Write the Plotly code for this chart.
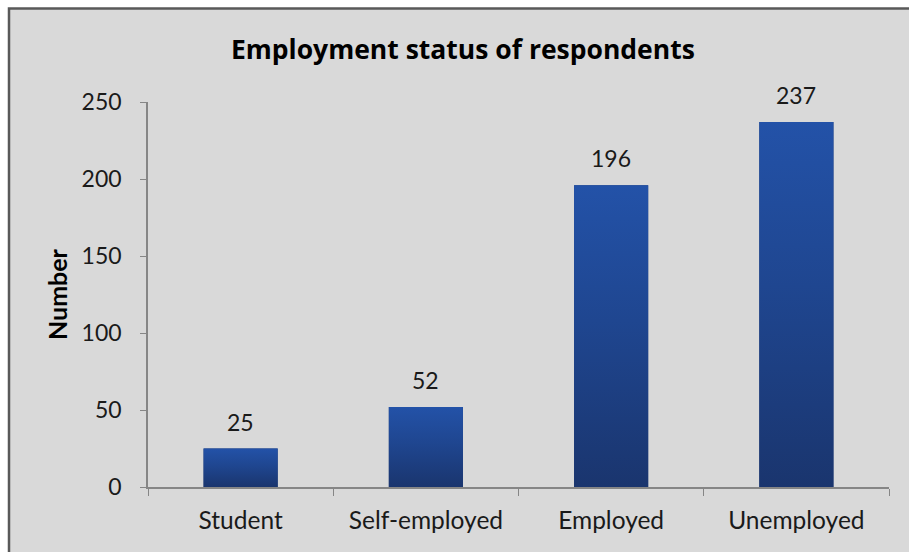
import plotly.graph_objects as go

# Survey counts by employment status
categories = ["Student", "Self-employed", "Employed", "Unemployed"]
counts = [25, 52, 196, 237]
y_ticks = [0, 50, 100, 150, 200, 250]

FONT = "Lato"
BAR_TOP = "#2352a8"
BAR_BOTTOM = "#1a356e"
BAR_HALF = 0.2  # half of bar width in category units
TEXT = "#1a1a1a"

fig = go.Figure()

# Base bars on the category axis
fig.add_trace(go.Bar(
    x=categories, y=counts,
    marker=dict(color=BAR_BOTTOM, line=dict(width=0)),
    width=2 * BAR_HALF,
    hoverinfo="x+y",
    showlegend=False,
))

# Vertical gradient fill over each bar (overlaid index axis)
for i, v in enumerate(counts):
    fig.add_trace(go.Scatter(
        x=[i - BAR_HALF, i + BAR_HALF, i + BAR_HALF, i - BAR_HALF, i - BAR_HALF],
        y=[0, 0, v, v, 0],
        xaxis="x2",
        mode="lines",
        line=dict(width=0),
        fill="toself",
        fillgradient=dict(
            type="vertical",
            colorscale=[[0, BAR_BOTTOM], [0.55, "#1f4690"], [1, BAR_TOP]],
        ),
        hoverinfo="skip",
        showlegend=False,
    ))

# Value labels above bars
for c, v in zip(categories, counts):
    fig.add_annotation(
        x=c, y=v, text=str(v), showarrow=False,
        yanchor="middle", yshift=27,
        font=dict(family=FONT, size=23, color=TEXT),
    )

axis_color = "#868686"

fig.update_layout(
    width=909, height=552,
    margin=dict(l=148, r=20, t=102, b=65),
    paper_bgcolor="white",
    plot_bgcolor="rgba(0,0,0,0)",
    font=dict(family=FONT, size=22, color=TEXT),
    title=dict(
        text="<b>Employment status of respondents</b>",
        x=0.425, xref="paper", xanchor="center",
        y=1 - 50 / 552, yref="container", yanchor="middle",
        font=dict(family="Open Sans", size=26.5, color="black"),
    ),
    xaxis=dict(
        type="category",
        range=[-0.5, 3.5],
        showline=True, linecolor=axis_color, linewidth=1.5,
        ticks="outside", tickson="boundaries", ticklen=7, tickcolor=axis_color,
        showgrid=False, zeroline=False,
        tickfont=dict(family=FONT, size=24.5, color=TEXT),
        ticklabelstandoff=11,
    ),
    xaxis2=dict(
        overlaying="x", range=[-0.5, 3.5], visible=False,
    ),
    yaxis=dict(
        range=[0, 250],
        tickvals=y_ticks,
        showline=True, linecolor=axis_color, linewidth=1.5,
        ticks="outside", ticklen=6, tickcolor=axis_color,
        showgrid=False, zeroline=False,
        tickfont=dict(family=FONT, size=23, color=TEXT),
        ticklabelstandoff=14,
        title=dict(text="<b>Number</b>", font=dict(family=FONT, size=25, color="black"), standoff=7),
    ),
    shapes=[
        # grey chart panel with a dark frame along the top and left edges
        dict(
            type="rect", xref="paper", yref="paper", layer="below",
            x0=(9 - 148) / 741, x1=1.5,
            y0=-0.5, y1=1 + (102 - 8.5) / 385,
            fillcolor="#d9d9d9",
            line=dict(color="#595959", width=2.5),
        ),
    ],
)

fig.write_html("out.html")
